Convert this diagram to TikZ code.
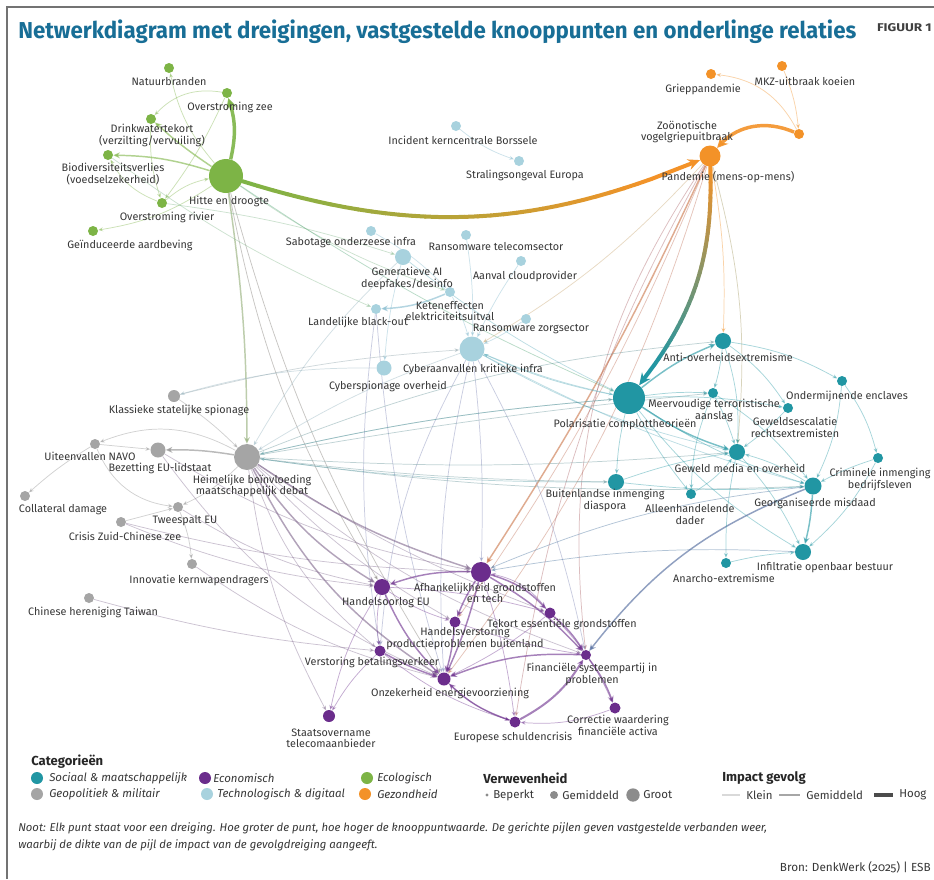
\documentclass[tikz,border=0pt]{standalone}
\usepackage{fontspec}
\setmainfont{Fira Sans}
\usepackage{graphicx}
\usetikzlibrary{arrows.meta}
\definecolor{cT}{RGB}{33,150,163}
\definecolor{cP}{RGB}{107,45,140}
\definecolor{cG}{RGB}{125,180,70}
\definecolor{cX}{RGB}{165,165,165}
\definecolor{cXe}{RGB}{140,140,140}
\definecolor{cB}{RGB}{168,210,222}
\definecolor{cBe}{RGB}{130,185,205}
\definecolor{cO}{RGB}{243,146,40}
\definecolor{cTitle}{RGB}{24,110,150}
\definecolor{cTxt}{RGB}{55,55,55}
\newcommand\gradedge[6]{%
  \foreach \gi in {1,...,30}{%
    \pgfmathsetmacro\gta{0.9*(\gi-1)/30}%
    \pgfmathsetmacro\gtb{0.9*\gi/30}%
    \pgfmathtruncatemacro\gpc{100*(\gi-0.5)/30}%
    \path (#1) to[#3] coordinate[pos=\gta] (gA) coordinate[pos=\gtb] (gB) (#2);
    \draw[line width=#6, line cap=round, draw=#5!\gpc!#4] (gA) -- (gB);
  }%
  \path (#1) to[#3] coordinate[pos=0.9] (gA) coordinate[pos=1] (gB) (#2);
  \draw[line width=#6, draw=#5, -{Stealth[length=9pt,width=8pt]}] (gA) -- (gB);
}
\begin{document}
\begin{tikzpicture}[x=0.75pt,y=-0.75pt,
  dot/.style={circle, inner sep=0pt, minimum size=#1*1.5pt},
  lab/.style={font=\fontsize{8.1pt}{8.6pt}\selectfont, text=cTxt, align=center, inner sep=0pt},
  e/.style={line width=0.55pt, opacity=0.4, -{Stealth[length=3.6pt,width=3pt]}},
  em/.style={line width=1.1pt, opacity=0.6, -{Stealth[length=5pt,width=4.5pt]}},
  et/.style={line width=2.6pt, opacity=0.9, -{Stealth[length=8pt,width=8pt]}},
  ldot/.style={circle, inner sep=0pt, minimum size=9pt},
  legit/.style={font=\fontsize{8.6pt}{9pt}\selectfont\itshape, text=cTxt, anchor=west, inner sep=0pt},
  legup/.style={font=\fontsize{8.6pt}{9pt}\selectfont, text=cTxt, anchor=west, inner sep=0pt},
  leghd/.style={font=\fontsize{9.8pt}{11pt}\selectfont\bfseries, text=black!85, anchor=west, inner sep=0pt}
]
\useasboundingbox (0,0) rectangle (934,879);
\fill[white] (0,0) rectangle (934,879);
\draw[black!55, line width=0.8pt] (7,879) -- (7,7) -- (934,7);

% ---------------- nodes (name/colour/radius in px)
\foreach \n/\c/\r/\x/\y in {
  natuur/cG/5/169/68, zee/cG/5/227/93, drink/cG/5/151/119, bio/cG/5/108/155,
  hitte/cG/17/226/176, rivier/cG/5/162/203, aard/cG/5/93/231,
  mkz/cO/5/782/66, griep/cO/5/711/74, zoo/cO/5/799/134, pand/cO/10.5/710/156,
  kern/cB/5/456/126, stral/cB/5/519/161, sabo/cB/5/371/231, rtel/cB/5/466/235,
  genai/cB/8/403/257, cloud/cB/5/521/261, keten/cB/5/450/292, black/cB/5/376/309,
  rzorg/cB/5/526/319, cyber/cB/12.5/472/349, cspio/cB/7.5/384/368,
  klas/cX/6/174/396, navo/cX/5/95/444, bez/cX/7.5/158/450, heim/cX/13/247/457,
  coll/cX/5/25/496, twee/cX/5/178/507, czc/cX/5/121/522, innov/cX/5/192/564, taiwan/cX/5/89/598,
  afh/cP/10/481/572, hoorl/cP/8/382/587, tekort/cP/5.5/550/613, hverst/cP/5.5/455/622,
  vbet/cP/5.5/380/651, fin/cP/5/586/655, onz/cP/6.5/444/679, staat/cP/6/329/716,
  eur/cP/5.5/515/722, corr/cP/5.5/615/708,
  anti/cT/8/723/341, pol/cT/16/629/398, meer/cT/5/713/393, onderm/cT/5/842/381,
  gewesc/cT/5/788/408, gmedia/cT/8/737/452, crim/cT/5/878/458, buit/cT/8/616/482,
  georg/cT/8.5/813/486, allee/cT/5/691/494, infil/cT/8/803/552, anar/cT/5/726/563}
  {\node[dot=\r] (\n) at (\x,\y) {};}

% ---------------- edges
% green
\draw[et,cG] (hitte) to[bend right=15] (zee);
\draw[em,cG] (hitte) to[bend left=4] (drink);
\draw[em,cG] (hitte) to[bend right=8] (bio);
\draw[e,cG] (rivier) to[bend left=14] (hitte);
\draw[e,cG] (zee) to[bend left=6] (rivier);
\draw[e,cG] (zee) to[bend right=28] (drink);
\draw[e,cG] (hitte) to[bend left=14] (natuur);
\draw[e,cG] (drink) to[bend right=10] (rivier);
\draw[e,cG] (rivier) to[bend left=20] (bio);
\draw[e,cG] (hitte) to[bend left=12] (aard);
\draw[em,cG!50!cX] (hitte) to[bend left=4] (heim);
\draw[e,cG!50!cP] (hitte) to[bend right=10] (hoorl);
\draw[e,cG!50!cP] (hitte) to[bend right=8] (onz);
\draw[e,cG!50!cBe] (hitte) to[bend right=8] (keten);
\draw[e,cG!50!cBe] (bio) to[bend right=6] (black);
\draw[e,cG!50!cT] (hitte) to[bend right=5] (pol);
\draw[e,cG!50!cBe] (rivier) to[bend left=5] (genai);
% orange
\draw[et,cO] (zoo) to[bend right=35] (pand);
\draw[e,cO] (zoo) to[bend right=28] (griep);
\draw[e,cO] (mkz) to[bend left=8] (zoo);
\draw[em,cO!70!cP] (pand) to[bend left=4] (afh);
\draw[e,cO!60!cP] (pand) to[bend left=6] (hverst);
\draw[e,cO!60!cP] (pand) to[bend left=10] (onz);
\draw[e,cO!45!cP] (pand) to[bend right=20] (fin);
\draw[e,cO!45!cP] (pand) to[bend right=10] (eur);
\draw[e,cO] (pand) to[bend left=6] (anti);
\draw[e,cO!60!cBe] (pand) to[bend left=8] (cyber);
\draw[e,cO!60!cT] (pand) to[bend left=10] (gmedia);
% light blue
\draw[e,cBe] (kern) to[bend right=10] (stral);
\draw[e,cBe] (sabo) to[bend left=8] (keten);
\draw[e,cBe!60!cT] (genai) to[bend right=6] (pol);
\draw[e,cBe!60!cX] (genai) to[bend right=8] (heim);
\draw[em,cBe] (keten) to[bend left=10] (black);
\draw[e,cBe] (keten) to[bend left=5] (cyber);
\draw[e,cBe!60!cP] (black) to[bend right=6] (onz);
\draw[e,cBe!60!cP] (black) to[bend right=8] (vbet);
\draw[e,cBe!60!cT] (cyber) to[bend right=5] (pol);
\draw[e,cBe!60!cT] (cyber) to[bend right=8] (gmedia);
\draw[e,cBe!60!cT] (cyber) to[bend right=6] (georg);
\draw[e,cBe!60!cP] (cyber) to[bend left=4] (afh);
\draw[e,cBe!60!cP] (cyber) to[bend right=8] (onz);
\draw[e,cBe!60!cP] (cyber) to[bend right=12] (vbet);
\draw[e,cBe!60!cP] (cyber) to[bend left=8] (fin);
\draw[e,cBe] (rtel) to[bend left=5] (cyber);
\draw[e,cBe] (rzorg) to[bend left=5] (cyber);
\draw[e,cBe] (cloud) to[bend right=5] (cyber);
\draw[e,cBe!60!cX] (cspio) to[bend right=8] (klas);
\draw[e,cBe!60!cX] (cyber) to[bend right=6] (heim);
\draw[e,cBe] (genai) to[bend right=5] (cspio);
% grey
\draw[em,cXe] (heim) to[bend right=5] (bez);
\draw[e,cXe] (heim) to[bend right=25] (navo);
\draw[e,cXe] (navo) to (bez);
\draw[e,cXe] (navo) to[bend right=5] (coll);
\draw[e,cXe] (navo) to[bend right=30] (twee);
\draw[e,cXe] (heim) to[bend left=10] (twee);
\draw[e,cXe] (czc) to (twee);
\draw[e,cXe] (twee) to[bend left=8] (innov);
\draw[e,cXe!60!cP] (taiwan) to[bend right=5] (vbet);
\draw[e,cXe] (klas) to[bend left=5] (heim);
\draw[e,cXe!60!cBe] (klas) to[bend left=5] (cyber);
\draw[e,cXe!60!cT] (heim) to[bend left=4] (pol);
\draw[e,cXe!60!cT] (heim) to[bend right=4] (gmedia);
\draw[e,cXe!60!cT] (heim) to[bend right=3] (buit);
\draw[e,cXe!60!cT] (heim) to[bend right=5] (georg);
\draw[e,cXe!60!cT] (heim) to[bend left=8] (anti);
\draw[e,cXe!60!cT] (heim) to[bend left=2] (meer);
\draw[em,cXe!60!cP] (heim) to[bend right=12] (hoorl);
\draw[em,cXe!60!cP] (heim) to[bend right=8] (afh);
\draw[em,cXe!60!cP] (heim) to[bend right=15] (onz);
\draw[e,cXe!60!cP] (heim) to[bend right=8] (hverst);
\draw[e,cXe!60!cP] (heim) to[bend right=10] (fin);
\draw[e,cXe!60!cP] (heim) to[bend right=10] (staat);
\draw[e,cXe!60!cP] (heim) to[bend right=15] (vbet);
\draw[e,cXe!60!cP] (heim) to[bend right=6] (tekort);
\draw[e,cXe!60!cP] (bez) to[bend right=10] (afh);
\draw[e,cXe!60!cP] (bez) to[bend right=15] (onz);
\draw[e,cXe!60!cP] (czc) to[bend right=6] (afh);
\draw[e,cXe!60!cP] (czc) to[bend right=8] (hoorl);
\draw[e,cXe!60!cP] (innov) to[bend right=10] (onz);
\draw[e,cXe!60!cP] (twee) to[bend right=10] (hoorl);
% purple
\draw[em,cP] (afh) to[bend left=5] (onz);
\draw[em,cP] (afh) to[bend right=5] (hverst);
\draw[em,cP] (afh) to[bend left=15] (tekort);
\draw[em,cP] (afh) to[bend left=8] (fin);
\draw[em,cP] (afh) to[bend right=10] (hoorl);
\draw[em,cP] (hoorl) to[bend right=10] (onz);
\draw[e,cP] (hoorl) to[bend right=8] (hverst);
\draw[e,cP] (hoorl) to[bend right=10] (vbet);
\draw[em,cP] (tekort) to[bend left=8] (fin);
\draw[e,cP] (tekort) to[bend left=6] (onz);
\draw[em,cP] (hverst) to[bend left=5] (onz);
\draw[em,cP] (vbet) to[bend right=5] (onz);
\draw[em,cP] (fin) to[bend right=12] (onz);
\draw[em,cP,line width=1.5pt] (eur) to[bend right=15] (fin);
\draw[em,cP] (eur) to[bend left=12] (onz);
\draw[em,cP] (fin) to[bend left=8] (corr);
\draw[e,cP] (corr) to[bend left=12] (eur);
\draw[e,cP] (onz) to[bend right=12] (eur);
\draw[e,cP] (vbet) to[bend right=8] (staat);
\draw[e,cP] (hoorl) to[bend right=10] (staat);
\draw[e,cP] (tekort) to[bend left=10] (corr);
\draw[e,cP] (afh) to[bend left=5] (eur);
\draw[e,cP] (hverst) to[bend right=5] (fin);
\draw[e,cP] (tekort) to[bend right=20] (afh);
\draw[e,cP] (hoorl) to[bend left=6] (tekort);
\draw[e,cP] (vbet) to[bend right=10] (eur);
% teal
\draw[em,cT] (pol) to[bend left=8] (anti);
\draw[e,cT] (pol) to[bend left=5] (meer);
\draw[em,cT] (pol) to[bend right=8] (gmedia);
\draw[e,cT] (pol) to[bend right=5] (buit);
\draw[e,cT] (pol) to[bend right=8] (georg);
\draw[e,cT] (pol) to[bend right=5] (allee);
\draw[e,cT] (pol) to[bend right=10] (infil);
\draw[e,cT] (pol) to[bend left=6] (gewesc);
\draw[e,cT] (anti) to[bend left=5] (meer);
\draw[e,cT] (anti) to[bend left=10] (gmedia);
\draw[e,cT] (anti) to[bend left=10] (gewesc);
\draw[e,cT] (anti) to[bend left=10] (onderm);
\draw[e,cT] (onderm) to[bend left=10] (georg);
\draw[e,cT] (onderm) to[bend left=10] (crim);
\draw[e,cT] (crim) to[bend right=5] (georg);
\draw[e,cT] (crim) to[bend left=10] (infil);
\draw[e,cT] (gewesc) to[bend left=5] (gmedia);
\draw[em,cT] (georg) to[bend left=5] (infil);
\draw[em,cT!50!cP] (georg) to[bend right=15] (fin);
\draw[e,cT] (georg) to[bend right=8] (gmedia);
\draw[e,cT] (gmedia) to[bend left=8] (infil);
\draw[e,cT] (allee) to[bend right=10] (gmedia);
\draw[e,cT] (buit) to[bend left=5] (gmedia);
\draw[e,cT] (buit) to[bend right=5] (georg);
\draw[e,cT] (anar) to[bend left=5] (infil);
\draw[e,cT] (meer) to[bend left=5] (gmedia);
\draw[e,cT] (meer) to[bend left=10] (georg);
\draw[e,cT] (meer) to[bend right=10] (allee);
\draw[e,cT!60!cP] (georg) to[bend right=8] (afh);
\draw[e,cT!60!cP] (infil) to[bend right=6] (afh);
\draw[e,cT!60!cX] (pol) to[bend right=4] (heim);
\draw[e,cT!60!cX] (buit) to[bend left=4] (heim);
\draw[e,cT!60!cBe] (pol) to[bend left=6] (cyber);
\draw[e,cT] (gmedia) to[bend right=6] (anar);
% thick gradient edges
\gradedge{hitte}{pand}{bend right=20}{cG}{cO}{3pt}
\gradedge{pand}{pol}{bend left=20}{cO}{cT}{3pt}

% dots drawn on top of the connectors
\foreach \n/\c/\r in {
  natuur/cG/5, zee/cG/5, drink/cG/5, bio/cG/5, hitte/cG/17, rivier/cG/5, aard/cG/5,
  mkz/cO/5, griep/cO/5, zoo/cO/5, pand/cO/10.5,
  kern/cB/5, stral/cB/5, sabo/cB/5, rtel/cB/5, genai/cB/8, cloud/cB/5, keten/cB/5,
  black/cB/5, rzorg/cB/5, cyber/cB/12.5, cspio/cB/7.5,
  klas/cX/6, navo/cX/5, bez/cX/7.5, heim/cX/13, coll/cX/5, twee/cX/5, czc/cX/5, innov/cX/5, taiwan/cX/5,
  afh/cP/10, hoorl/cP/8, tekort/cP/5.5, hverst/cP/5.5, vbet/cP/5.5, fin/cP/5, onz/cP/6.5,
  staat/cP/6, eur/cP/5.5, corr/cP/5.5,
  anti/cT/8, pol/cT/16, meer/cT/5, onderm/cT/5, gewesc/cT/5, gmedia/cT/8, crim/cT/5,
  buit/cT/8, georg/cT/8.5, allee/cT/5, infil/cT/8, anar/cT/5}
  {\fill[\c] (\n.center) circle[radius=\r*0.75pt];}

% ---------------- labels
\node[lab] (natuur-l) at (169,82) {Natuurbranden};
\node[lab] (zee-l) at (230,107) {Overstroming zee};
\node[lab] (drink-l) at (152,135.5) {Drinkwatertekort\\(verzilting/vervuiling)};
\node[lab] (bio-l) at (113,174) {Biodiversiteitsverlies\\(voedselzekerheid)};
\node[lab] (hitte-l) at (229,201) {Hitte en droogte};
\node[lab] (rivier-l) at (167,217) {Overstroming rivier};
\node[lab] (aard-l) at (130,245) {Geïnduceerde aardbeving};
\node[lab] (mkz-l) at (805,81) {MKZ-uitbraak koeien};
\node[lab] (griep-l) at (703,89) {Grieppandemie};
\node[lab] (zoo-l) at (687,132) {Zoönotische\\vogelgriepuitbraak};
\node[lab] (pand-l) at (728,177) {Pandemie (mens-op-mens)};
\node[lab] (kern-l) at (463,140) {Incident kerncentrale Borssele};
\node[lab] (stral-l) at (525,175) {Stralingsongeval Europa};
\node[lab] (sabo-l) at (351,242) {Sabotage onderzeese infra};
\node[lab] (rtel-l) at (496,247) {Ransomware telecomsector};
\node[lab] (genai-l) at (407,278.5) {Generatieve AI\\deepfakes/desinfo};
\node[lab] (cloud-l) at (525,276) {Aanval cloudprovider};
\node[lab] (keten-l) at (450,311) {Keteneffecten\\elektriciteitsuitval};
\node[lab] (black-l) at (358,322) {Landelijke black-out};
\node[lab] (rzorg-l) at (531,329) {Ransomware zorgsector};
\node[lab] (cyber-l) at (473,369) {Cyberaanvallen kritieke infra};
\node[lab] (cspio-l) at (388,386) {Cyberspionage overheid};
\node[lab] (klas-l) at (179,410) {Klassieke statelijke spionage};
\node[lab] (navo-l) at (90,456) {Uiteenvallen NAVO};
\node[lab] (bez-l) at (160,468) {Bezetting EU-lidstaat};
\node[lab] (heim-l) at (252,486) {Heimelijke beïnvloeding\\maatschappelijk debat};
\node[lab] (coll-l) at (63,510) {Collateral damage};
\node[lab] (twee-l) at (185,521) {Tweespalt EU};
\node[lab] (czc-l) at (125,536) {Crisis Zuid-Chinese zee};
\node[lab] (innov-l) at (199,580) {Innovatie kernwapendragers};
\node[lab] (taiwan-l) at (93,612) {Chinese hereniging Taiwan};
\node[lab] (afh-l) at (485,593) {Afhankelijkheid grondstoffen\\en tech};
\node[lab] (hoorl-l) at (386,603) {Handelsoorlog EU};
\node[lab] (tekort-l) at (562,624) {Tekort essentiële grondstoffen};
\node[lab] (hverst-l) at (465,638.5) {Handelsverstoring\\productieproblemen buitenland};
\node[lab] (vbet-l) at (372,662) {Verstoring betalingsverkeer};
\node[lab] (fin-l) at (592,674.5) {Financiële systeempartij in\\problemen};
\node[lab] (onz-l) at (450,693) {Onzekerheid energievoorziening};
\node[lab] (staat-l) at (331,738.5) {Staatsovername\\telecomaanbieder};
\node[lab] (eur-l) at (513,737) {Europese schuldencrisis};
\node[lab] (corr-l) at (618,725.5) {Correctie waardering\\financiële activa};
\node[lab] (anti-l) at (728,357) {Anti-overheidsextremisme};
\node[lab] (pol-l) at (625,424) {Polarisatie complottheorieën};
\node[lab] (meer-l) at (714,410.5) {Meervoudige terroristische\\aanslag};
\node[lab] (onderm-l) at (847,396) {Ondermijnende enclaves};
\node[lab] (gewesc-l) at (795,427.5) {Geweldsescalatie\\rechtsextremisten};
\node[lab] (gmedia-l) at (740,468) {Geweld media en overheid};
\node[lab] (crim-l) at (880,479.5) {Criminele inmenging\\bedrijfsleven};
\node[lab] (buit-l) at (605,500.5) {Buitenlandse inmenging\\diaspora};
\node[lab] (georg-l) at (815,503) {Georganiseerde misdaad};
\node[lab] (allee-l) at (690,514.5) {Alleenhandelende\\dader};
\node[lab] (infil-l) at (825,567) {Infiltratie openbaar bestuur};
\node[lab] (anar-l) at (724,578) {Anarcho-extremisme};

% ---------------- title
\node[anchor=base west, inner sep=0pt, text=cTitle] (title) at (18,38)
  {\resizebox{628.5pt}{14pt}{\bfseries Netwerkdiagram met dreigingen, vastgestelde knooppunten en onderlinge relaties}};
\node[anchor=base east, inner sep=0pt, text=black!75] (figuur) at (932,31)
  {\resizebox{41pt}{6pt}{\bfseries FIGUUR 1}};

% ---------------- legend
\node[leghd] (lcat) at (31,762) {Categorieën};
\node[ldot, fill=cT] (ld1) at (37,778) {};
\node[legit] (lt1) at (49,778) {Sociaal \& maatschappelijk};
\node[ldot, fill=cP] (ld2) at (205,778) {};
\node[legit] (lt2) at (213,778) {Economisch};
\node[ldot, fill=cG] (ld3) at (367,778) {};
\node[legit] (lt3) at (377,778) {Ecologisch};
\node[ldot, fill=cX] (ld4) at (37,794) {};
\node[legit] (lt4) at (49,794) {Geopolitiek \& militair};
\node[ldot, fill=cB] (ld5) at (207,794) {};
\node[legit] (lt5) at (217,794) {Technologisch \& digitaal};
\node[ldot, fill=cO] (ld6) at (365,794) {};
\node[legit] (lt6) at (377,794) {Gezondheid};

\node[leghd] (lver) at (483,778) {Verwevenheid};
\node[circle, inner sep=0pt, minimum size=2.5pt, fill=cXe] (lv1) at (487,795) {};
\node[legup] (lvt1) at (493,795) {Beperkt};
\node[circle, inner sep=0pt, minimum size=6pt, fill=cXe] (lv2) at (554,795) {};
\node[legup] (lvt2) at (562,795) {Gemiddeld};
\node[circle, inner sep=0pt, minimum size=10pt, fill=cXe] (lv3) at (633,795) {};
\node[legup] (lvt3) at (643,795) {Groot};

\node[leghd] (limp) at (722,778) {Impact gevolg};
\coordinate (li1a) at (722,795); \coordinate (li1b) at (740,795);
\draw[black!15, line width=0.8pt] (li1a) -- (li1b);
\node[legup] (lit1) at (746,795) {Klein};
\coordinate (li2a) at (779,795); \coordinate (li2b) at (800,795);
\draw[black!35, line width=2pt] (li2a) -- (li2b);
\node[legup] (lit2) at (806,795) {Gemiddeld};
\coordinate (li3a) at (874,795); \coordinate (li3b) at (893,795);
\draw[black!70, line width=3.5pt] (li3a) -- (li3b);
\node[legup] (lit3) at (899,795) {Hoog};

% ---------------- note and source
\node[anchor=base west, inner sep=0pt, text=cTxt, font=\fontsize{8.5pt}{10pt}\selectfont\itshape] (noot1) at (18,831)
  {Noot: Elk punt staat voor een dreiging. Hoe groter de punt, hoe hoger de knooppuntwaarde. De gerichte pijlen geven vastgestelde verbanden weer,};
\node[anchor=base west, inner sep=0pt, text=cTxt, font=\fontsize{8.5pt}{10pt}\selectfont\itshape] (noot2) at (18,848)
  {waarbij de dikte van de pijl de impact van de gevolgdreiging aangeeft.};
\node[anchor=base east, inner sep=0pt, text=cTxt, font=\fontsize{8.8pt}{10pt}\selectfont] (bron) at (931,871)
  {\addfontfeatures{Numbers=OldStyle}Bron: DenkWerk (2025) | ESB};
\end{tikzpicture}
\end{document}
